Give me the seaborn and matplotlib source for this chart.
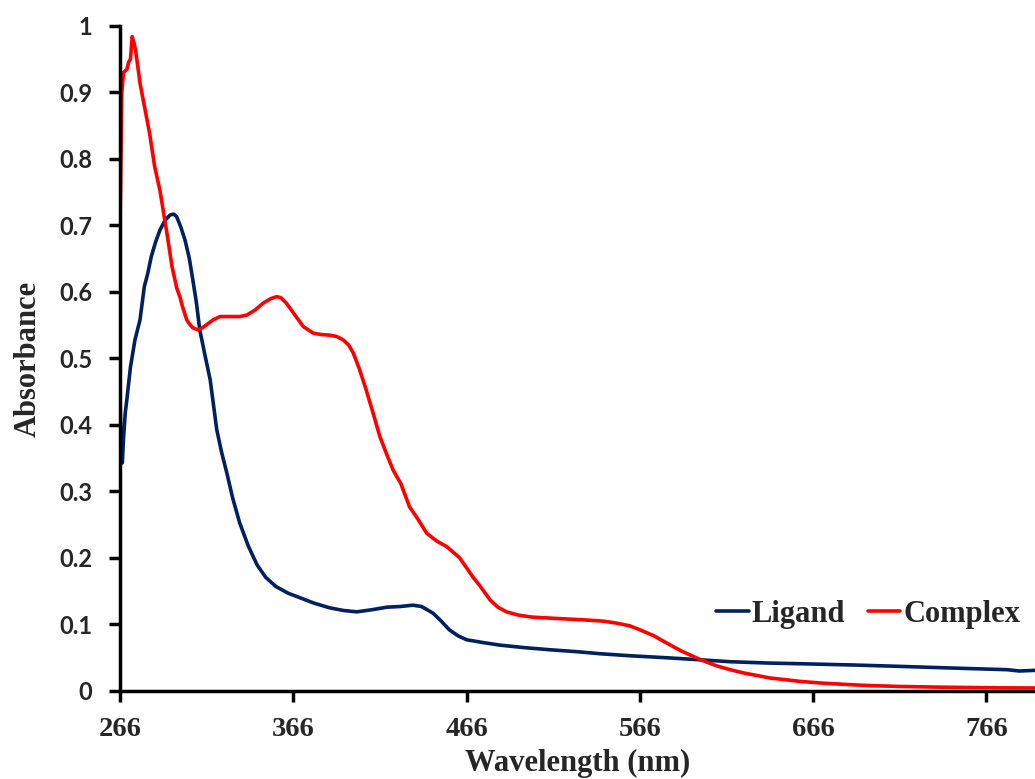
import numpy as np
import pandas as pd
import matplotlib
matplotlib.use("Agg")
import matplotlib.pyplot as plt
import seaborn as sns

# Ligand spectrum (wavelength nm, absorbance)
ligand_x = [266, 266.6, 267.3, 268, 269, 270, 272, 274.6, 277.5, 280, 282, 284, 286.5, 289, 292,
            295, 297, 298.7, 301, 303.5, 306, 308, 310, 312, 315, 318, 321.8, 324.5, 327.6, 331,
            335, 340, 345, 350, 356, 363, 370, 378, 387, 395, 402.6, 411, 420, 427.6, 435, 440,
            446.6, 451, 456, 461, 466, 475, 485, 500, 514, 530, 543, 560, 581, 600, 618, 640,
            658, 690, 716, 740, 765, 778, 785, 794]
ligand_y = [0.44, 0.36, 0.343, 0.38, 0.418, 0.44, 0.487, 0.528, 0.558, 0.608, 0.628, 0.653,
            0.675, 0.693, 0.708, 0.716, 0.717, 0.713, 0.698, 0.678, 0.65, 0.618, 0.585, 0.543,
            0.505, 0.468, 0.393, 0.36, 0.328, 0.29, 0.253, 0.218, 0.19, 0.171, 0.157, 0.147,
            0.140, 0.132, 0.125, 0.121, 0.119, 0.122, 0.126, 0.127, 0.129, 0.127, 0.117, 0.106,
            0.092, 0.083, 0.077, 0.073, 0.069, 0.065, 0.062, 0.059, 0.056, 0.053, 0.050, 0.047,
            0.044, 0.042, 0.041, 0.039, 0.037, 0.035, 0.033, 0.032, 0.030, 0.031]

# Complex spectrum (wavelength nm, absorbance)
complex_x = [266, 267, 268, 270, 271, 272, 273, 274, 275, 277.5, 280, 283, 286, 289, 293, 296,
             298.7, 300.6, 302, 304.5, 306, 308, 311, 314, 319.7, 323.7, 329.5, 335, 339, 344,
             348.5, 353, 356.4, 359, 362, 367, 371.7, 377.5, 382, 387, 391, 394.7, 398, 400.6,
             404, 408, 412, 416, 420, 423.6, 428, 433, 437, 443, 449, 454.5, 459, 462, 466,
             469.7, 473.7, 479.5, 484, 489, 496, 504, 518, 533, 545, 552.6, 560, 566, 574,
             581.5, 590, 601, 610, 618, 626, 634, 641, 650, 658, 670, 687, 700, 716, 740, 774,
             794]
complex_y = [0.70, 0.90, 0.93, 0.935, 0.946, 0.95, 0.984, 0.975, 0.963, 0.914, 0.88, 0.839,
             0.788, 0.753, 0.689, 0.638, 0.606, 0.592, 0.578, 0.558, 0.552, 0.546, 0.543, 0.547,
             0.558, 0.563, 0.563, 0.563, 0.565, 0.573, 0.583, 0.59, 0.593, 0.591, 0.583, 0.565,
             0.548, 0.538, 0.536, 0.535, 0.533, 0.528, 0.52, 0.508, 0.485, 0.453, 0.418, 0.382,
             0.355, 0.332, 0.312, 0.277, 0.262, 0.237, 0.225, 0.217, 0.207, 0.2, 0.185, 0.171,
             0.158, 0.137, 0.126, 0.119, 0.114, 0.111, 0.109, 0.107, 0.105, 0.102, 0.098, 0.092,
             0.083, 0.072, 0.06, 0.047, 0.038, 0.032, 0.027, 0.023, 0.0195, 0.017, 0.0145,
             0.012, 0.0095, 0.008, 0.0068, 0.0057, 0.0047, 0.0045]

x_ticks = [266, 366, 466, 566, 666, 766]
y_ticks = [0, 0.1, 0.2, 0.3, 0.4, 0.5, 0.6, 0.7, 0.8, 0.9, 1]
y_tick_labels = ["0", "0.1", "0.2", "0.3", "0.4", "0.5", "0.6", "0.7", "0.8", "0.9", "1"]

df = pd.concat([
    pd.DataFrame({"Wavelength": ligand_x, "Absorbance": ligand_y, "Series": "Ligand"}),
    pd.DataFrame({"Wavelength": complex_x, "Absorbance": complex_y, "Series": "Complex"}),
], ignore_index=True)

sns.set_style("white")
fig = plt.figure(figsize=(10.35, 7.79), dpi=100)
ax = fig.add_axes([0.116, 0.113, 0.884, 0.8537])

sns.lineplot(data=df, x="Wavelength", y="Absorbance", hue="Series",
             palette={"Ligand": "#002060", "Complex": "#FF0000"},
             estimator=None, sort=True, linewidth=2.6, ax=ax)
for ln in ax.lines:
    ln.set_solid_joinstyle("round")
    ln.set_solid_capstyle("round")

ax.set_xlim(266, 794)
ax.set_ylim(0, 1)
ax.set_xticks(x_ticks)
ax.set_xticklabels([str(t) for t in x_ticks], fontfamily="Liberation Serif",
                   fontweight="bold", fontsize=20.5)
ax.set_yticks(y_ticks)
ax.set_yticklabels(y_tick_labels, fontfamily="Lato", fontweight="bold", fontsize=17)

for s in ["top", "right"]:
    ax.spines[s].set_visible(False)
for s in ["left", "bottom"]:
    ax.spines[s].set_color("black")
    ax.spines[s].set_linewidth(2.5)
ax.tick_params(axis="both", direction="out", length=8, width=2.5, color="black",
               left=True, bottom=True)
ax.tick_params(axis="y", pad=12)
ax.tick_params(axis="x", pad=11)

ax.set_xlabel("Wavelength (nm)", fontfamily="Liberation Serif", fontweight="bold",
              fontsize=22, labelpad=5)
ax.set_ylabel("Absorbance", fontfamily="Liberation Serif", fontweight="bold",
              fontsize=22, labelpad=12)

handles, labels = ax.get_legend_handles_labels()
ax.legend(handles, labels, ncol=2, frameon=False, loc="center right",
          bbox_to_anchor=(0.997, 0.115), handlelength=1.05, handletextpad=0.1,
          columnspacing=0.75, borderaxespad=0,
          prop={"family": "Liberation Serif", "weight": "bold", "size": 22})

fig.savefig("out.png", dpi=100)
